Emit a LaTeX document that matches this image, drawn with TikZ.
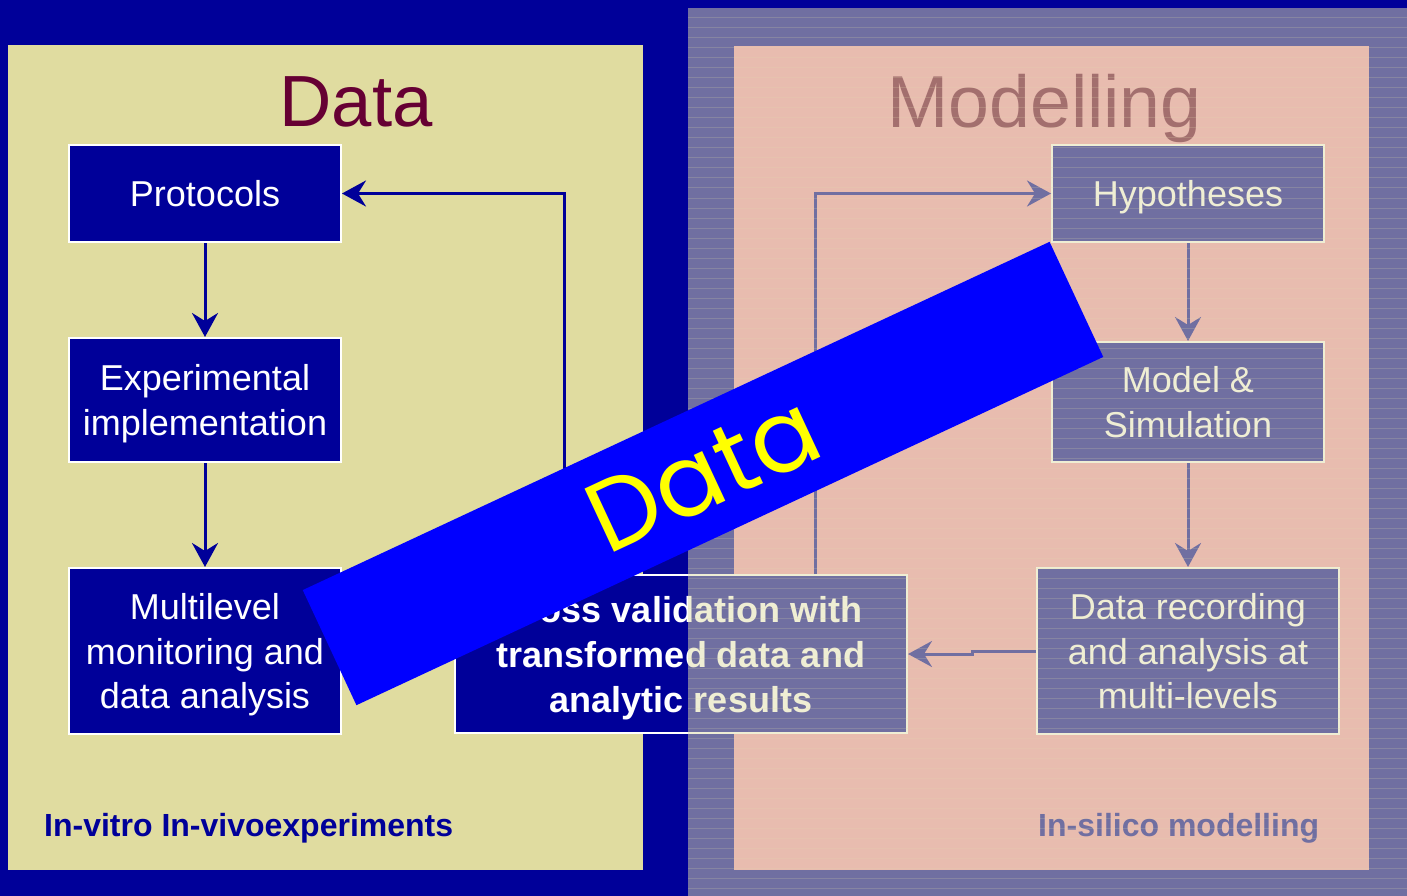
\documentclass[tikz,border=0pt]{standalone}
\usepackage{fontspec}
\setmainfont{Liberation Sans}
\newfontfamily\bandfont{Poppins}
\usetikzlibrary{arrows.meta}

\definecolor{navy}{RGB}{0,0,153}
\definecolor{sand}{RGB}{224,220,160}
\definecolor{rose}{RGB}{241,154,182}
\definecolor{maroon}{RGB}{102,0,51}
\definecolor{veilcol}{RGB}{225,222,170}
\definecolor{bandblue}{RGB}{0,0,255}
\definecolor{bandyellow}{RGB}{255,255,0}

\tikzset{
  stepbox/.style={draw=white, line width=2pt, fill=navy, text=white,
    align=center, inner sep=0pt, text depth=0pt,
    font=\fontsize{36}{44.5}\selectfont},
  boldbox/.style={stepbox, font=\bfseries\fontsize{36}{45}\selectfont},
  flow/.style={draw=navy, line width=3pt,
    -{Stealth[length=24pt, width=26pt, inset=8pt]}},
  paneltitle/.style={text=maroon, inner sep=0pt, anchor=base,
    font=\fontsize{72.5}{80}\selectfont},
  footlabel/.style={text=navy, inner sep=0pt, anchor=base west,
    font=\bfseries\fontsize{32}{36}\selectfont},
  veil/.style={fill=veilcol, opacity=0.5},
  veilline/.style={draw=veilcol, line width=1pt, opacity=0.2},
}

\begin{document}
\begin{tikzpicture}[x=1pt, y=-1pt]
  \useasboundingbox (0,0) rectangle (1407,896);
  % backdrop and the two panels
  \fill[navy] (0,0) rectangle (1407,896);
  \fill[sand] (8,45) rectangle (643,870);
  \fill[rose] (734,46) rectangle (1369,870);

  % titles
  \node[paneltitle] (tdata) at (356,127) {Data};
  \node[paneltitle, font=\fontsize{73.5}{80}\selectfont] (tmodel) at (1044.5,128) {Modelling};

  % experimental side
  \node[stepbox, minimum width=272pt, minimum height=97pt] (prot) at (205,193.5) {Protocols};
  \node[stepbox, minimum width=272pt, minimum height=124pt] (exp) at (205,400) {Experimental\\implementation};
  \node[stepbox, minimum width=272pt, minimum height=166pt] (multi) at (205,651) {Multilevel\\monitoring and\\data analysis};

  % cross validation
  \node[boldbox, minimum width=452pt, minimum height=158pt] (cv) at (681,654) {Cross validation with\\transformed data and\\analytic results};

  % modelling side
  \node[stepbox, minimum width=272pt, minimum height=97pt] (hyp) at (1188,193.5) {Hypotheses};
  \node[stepbox, minimum width=272pt, minimum height=120pt] (model) at (1188,402) {Model \&\\Simulation};
  \node[stepbox, minimum width=302pt, minimum height=166pt] (rec) at (1188,651) {Data recording\\and analysis at\\multi-levels};

  % footers
  \node[footlabel] (fl) at (44,836) {In-vitro In-vivoexperiments};
  \node[footlabel] (fr) at (1038,836) {In-silico modelling};

  % connectors
  \coordinate (lx) at (564,0);
  \coordinate (rx) at (815,0);
  \coordinate (jx) at (972,0);
  \draw[flow] (prot) -- (exp);
  \draw[flow] (exp) -- (multi);
  \draw[flow] (lx |- cv.north) |- (prot.east);
  \draw[flow] (rx |- cv.north) |- (hyp.west);
  \draw[flow] (hyp) -- (model);
  \draw[flow] (model) -- (rec);
  \draw[flow] (rec.west) -- (jx |- rec.west) -- (jx |- cv.east) -- (cv.east);

  % translucent screen over the modelling half
  \fill[veil] (688,8) rectangle (1407,896);
  \foreach \yy in {18,28,...,888} {
    \draw[veilline] (688,\yy) -- (1407,\yy);
  }

  % diagonal banner
  \node[fill=bandblue, minimum width=824pt, minimum height=127pt, inner sep=0pt,
        rotate=25, text=bandyellow, font=\bandfont\fontsize{100}{110}\selectfont]
        (banner) at (703,473.5) {Data};
\end{tikzpicture}
\end{document}
